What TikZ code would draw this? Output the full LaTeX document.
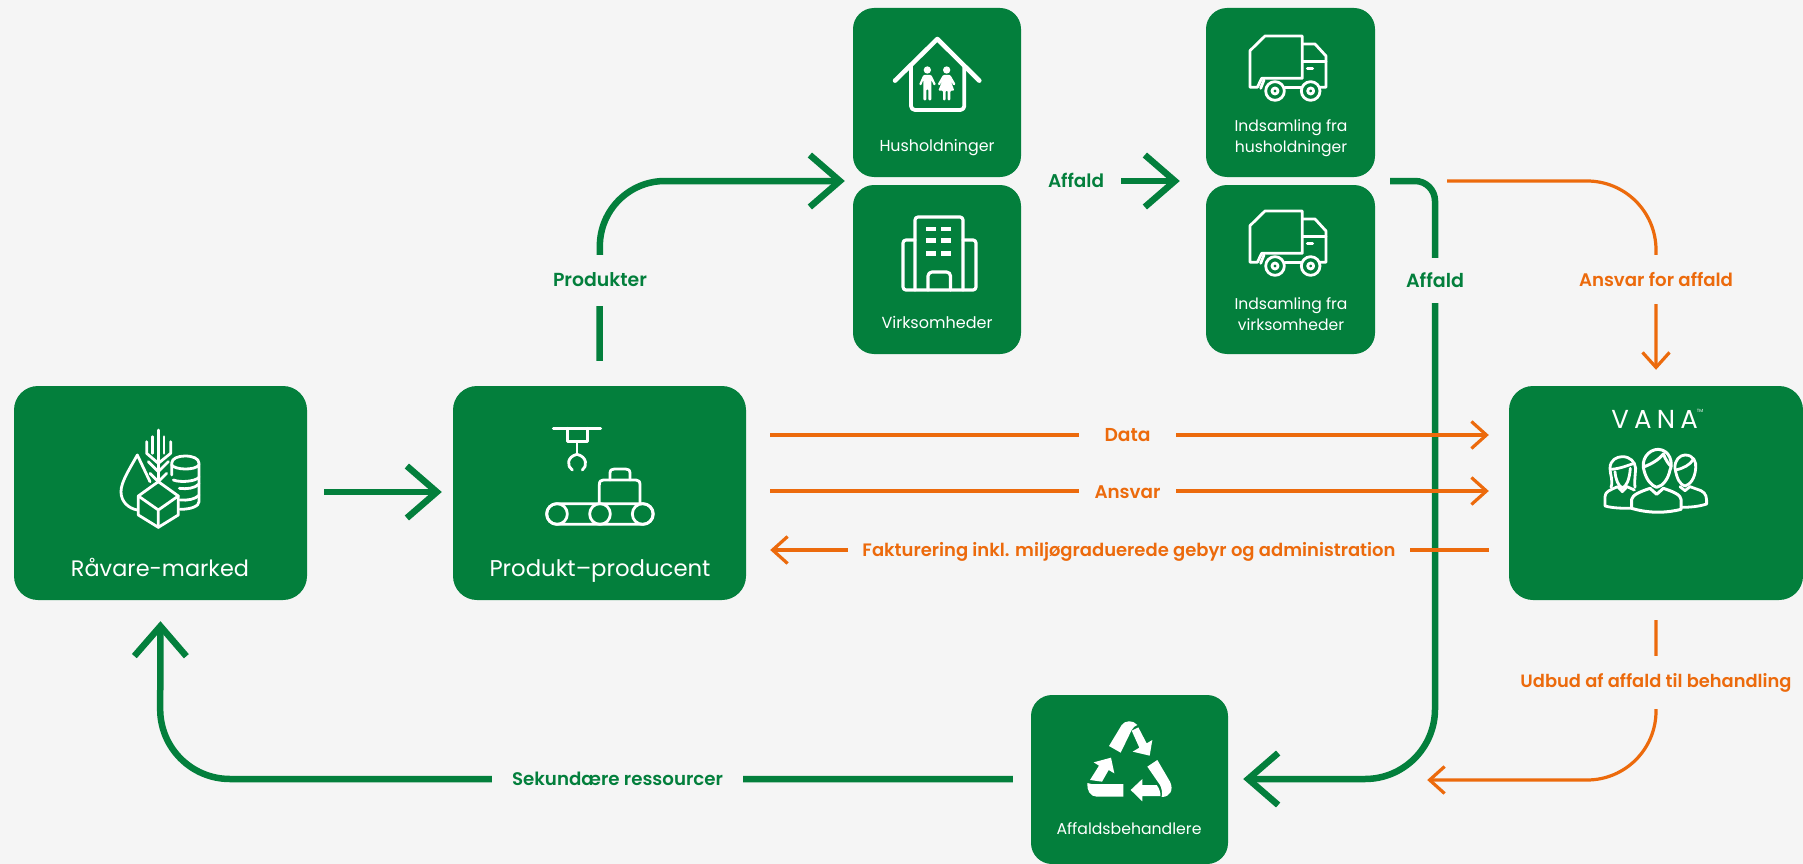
\documentclass[tikz,border=0pt]{standalone}
\usepackage{graphicx}
\usepackage{fontspec}
\usetikzlibrary{arrows.meta}
\setmainfont{Poppins}
\newfontfamily\lbfont{Poppins SemiBold}
\newfontfamily\vanafont[LetterSpace=20]{Poppins}
\definecolor{bgc}{HTML}{F5F5F5}
\definecolor{gc}{HTML}{037F3C}
\definecolor{oc}{HTML}{EC6A0C}
\newcommand\fitw[2]{\resizebox{#1pt}{!}{#2}}
\tikzset{
  gbox/.style={rectangle,fill=gc,rounded corners=24pt,inner sep=0pt},
  sbox/.style={gbox,rounded corners=21pt},
  boxtxt/.style={text=white,inner sep=0pt,align=center},
  glabel/.style={fill=bgc,text=gc,inner sep=0pt,font=\lbfont},
  olabel/.style={fill=bgc,text=oc,inner sep=0pt,font=\lbfont},
  gline/.style={draw=gc,line width=6.5pt,-{Straight Barb[length=30pt,width=52pt]}},
  oline/.style={draw=oc,line width=3.2pt,-{Straight Barb[length=15pt,width=27pt]}},
  ic/.style={draw=white,line width=2.8pt,line join=round,line cap=round},
  icf/.style={fill=white,draw=none},
}
\newcommand\TruckIcon{%
  \draw[ic] (52,172) -- (30,172) -- (30,62) -- (75,18) -- (187,18) -- (187,145) -- (65,145) -- (52,172);
  \draw[ic] (187,42) -- (225,42) -- (258,78) -- (258,172) -- (240,172);
  \draw[ic] (190,95) -- (258,95);
  \draw[ic] (135,172) -- (183,172);
  \draw[ic] (62,175) -- (72,150);
  \draw[ic,line width=3pt] (202,115) -- (218,115);
  \draw[ic] (105,183) circle (28);
  \draw[ic] (105,183) circle (9);
  \draw[ic] (212,183) circle (28);
  \draw[ic] (212,183) circle (9);
}
\begin{document}
\begin{tikzpicture}[x=1pt,y=-1pt]
\path[use as bounding box,fill=bgc] (0,0) rectangle (1803,864);

% boxes
\node[gbox,minimum width=293pt,minimum height=214pt] (rav) at (160.5,493) {};
\node[gbox,minimum width=293pt,minimum height=214pt] (prod) at (599.5,493) {};
\node[sbox,minimum width=168pt,minimum height=169pt] (hus) at (937,92.5) {};
\node[sbox,minimum width=168pt,minimum height=169pt] (virk) at (937,269.5) {};
\node[sbox,minimum width=169pt,minimum height=169pt] (indh) at (1290.5,92.5) {};
\node[sbox,minimum width=169pt,minimum height=169pt] (indv) at (1290.5,269.5) {};
\node[gbox,minimum width=294pt,minimum height=214pt] (vana) at (1656,493) {};
\node[sbox,minimum width=197pt,minimum height=169pt] (affb) at (1129.5,779.5) {};

% turning points
\coordinate (midL) at (0,181);
\coordinate (tp1) at (600,181);
\coordinate (tp2) at (1435,181);
\coordinate (tp3) at (1435,779);
\coordinate (tp4) at (160,779);
\coordinate (tp5) at (1656,181);
\coordinate (tp6) at (1656,780);

% green connectors
\draw[gline,shorten <=17pt,shorten >=11pt] (rav.east |- 0,492) -- (prod.west |- 0,492);
\draw[gline,shorten <=25pt,shorten >=8pt,rounded corners=65pt] (prod.north) -- (tp1) -- (hus.west |- midL);
\draw[gline,shorten <=100pt,shorten >=26pt] (hus.east |- midL) -- (indh.west |- midL);
\draw[gline,shorten <=15pt,shorten >=15pt] (indh.east |- midL) [rounded corners=20pt] -- (tp2) [rounded corners=70pt] -- (tp3) -- (affb.east |- tp3);
\draw[gline,shorten <=18pt,shorten >=21pt,rounded corners=70pt] (affb.west |- tp3) -- (tp4) -- (rav.south);

% orange connectors
\draw[oline,shorten <=72pt,shorten >=16pt,rounded corners=69pt] (indh.east |- midL) -- (tp5) -- (vana.north);
\draw[oline,shorten <=24pt,shorten >=20pt] (prod.east |- 0,435) -- (vana.west |- 0,435);
\draw[oline,shorten <=24pt,shorten >=20pt] (prod.east |- 0,491) -- (vana.west |- 0,491);
\draw[oline,shorten <=20pt,shorten >=24pt] (vana.west |- 0,550) -- (prod.east |- 0,550);
\draw[oline,shorten <=20pt,shorten >=199pt,rounded corners=69pt] (vana.south) -- (tp6) -- (affb.east |- tp6);

% connector labels
\node[glabel,minimum width=100pt,minimum height=51pt] (lprod) at (600,280) {\fitw{94}{Produkter}};
\node[glabel,minimum width=56pt] (laff1) at (1076,180) {\fitw{56}{Affald}};
\node[glabel,minimum width=62pt,minimum height=45pt] (laff2) at (1435,280) {\fitw{58}{Affald}};
\node[glabel,minimum width=251pt,minimum height=14pt] (lsek) at (617.5,779) {\fitw{211}{Sekundære ressourcer}};
\node[olabel,minimum width=165pt,minimum height=49pt] (lans) at (1656,279) {\fitw{154}{Ansvar for affald}};
\node[olabel,minimum width=97pt,minimum height=16pt] (ldata) at (1127.5,435) {\fitw{46}{Data}};
\node[olabel,minimum width=97pt,minimum height=16pt] (lansv) at (1127.5,492) {\fitw{66}{Ansvar}};
\node[olabel,minimum width=562pt,minimum height=16pt] (lfak) at (1129,552) {\fitw{533}{Fakturering inkl. miljøgraduerede gebyr og administration}};
\node[olabel,minimum width=272pt,minimum height=53pt] (ludb) at (1656,682.5) {\fitw{271}{Udbud af affald til behandling}};

% box labels
\node[boxtxt] (traw) at (160,567) {\fitw{178}{Råvare-marked}};
\node[boxtxt] (tprod) at (600,571) {\fitw{221}{Produkt–producent}};
\node[boxtxt] (thus) at (937,148) {\fitw{115}{Husholdninger}};
\node[boxtxt] (tvirk) at (937,322) {\fitw{111}{Virksomheder}};
\node[boxtxt,font=\fontsize{15.6}{21.5}\selectfont] (tindh) at (1291,138) {Indsamling fra\\husholdninger};
\node[boxtxt,font=\fontsize{15.6}{21.5}\selectfont] (tindv) at (1291,314) {Indsamling fra\\virksomheder};
\node[boxtxt] (taffb) at (1129,829) {\fitw{145}{Affaldsbehandlere}};
\node[boxtxt,font=\vanafont\fontsize{26}{26}\selectfont] (tvana) at (1654.5,419) {VANA};
\node[boxtxt,font=\fontsize{4.5}{5}\selectfont] (ttm) at (1700,411) {TM};

% raw materials icon
\begin{scope}[shift={(100pt,-420pt)},x=.3333pt,y=-.3333pt]
  \draw[ic] (112,270) .. controls (85,265) and (63,245) .. (63,215) .. controls (63,185) and (90,145) .. (112,105) -- (150,185);
  \draw[ic] (175,30) -- (175,185);
  \draw[ic] (158,50) -- (158,100) (192,50) -- (192,100);
  \draw[ic] (140,65) -- (140,100) -- (175,130) -- (212,100) -- (212,65);
  \draw[ic] (145,125) -- (175,155) -- (205,125);
  \draw[ic] (150,160) -- (175,185) -- (200,160);
  \draw[ic] (215,165) -- (215,130) .. controls (215,115) and (235,108) .. (255,108) .. controls (278,108) and (297,115) .. (297,130) -- (297,245) .. controls (297,258) and (275,268) .. (240,268);
  \draw[ic] (215,135) .. controls (225,150) and (285,152) .. (297,135);
  \draw[ic] (220,180) .. controls (240,188) and (285,185) .. (297,172);
  \draw[ic] (238,205) .. controls (260,208) and (285,205) .. (297,192);
  \draw[ic] (240,240) .. controls (262,242) and (285,238) .. (297,226);
  \draw[ic,fill=gc] (175,185) -- (115,228) -- (115,285) -- (175,322) -- (235,285) -- (235,228) -- cycle;
  \draw[ic] (115,228) -- (175,270) -- (235,228) (175,270) -- (175,322);
\end{scope}

% conveyor icon
\begin{scope}[shift={(535pt,-415pt)},x=.3333pt,y=-.3333pt]
  \draw[ic,line width=3pt] (55,40) -- (197,40);
  \draw[ic] (97,40) -- (97,80) -- (158,80) -- (158,40);
  \draw[ic] (126,80) -- (126,118);
  \draw[ic] (112,165) .. controls (95,155) and (95,125) .. (126,118) .. controls (157,125) and (157,155) .. (142,165);
  \draw[ic] (193,265) -- (193,210) .. controls (193,198) and (198,195) .. (205,195) -- (303,195) .. controls (312,195) and (315,200) .. (315,210) -- (315,265);
  \draw[ic] (225,195) -- (225,175) .. controls (225,165) and (230,162) .. (238,162) -- (272,162) .. controls (280,162) and (285,165) .. (285,175) -- (285,195);
  \draw[ic,rounded corners=10.3pt] (35,266) rectangle (355,328);
  \draw[ic] (66,297) circle (31);
  \draw[ic] (195,297) circle (31);
  \draw[ic] (323,297) circle (31);
\end{scope}

% house icon
\begin{scope}[shift={(885pt,-30pt)},x=.3333pt,y=-.3333pt]
  \draw[ic,line width=4.5pt] (30,152) -- (157,27) -- (283,152);
  \draw[ic,line width=3.8pt,rounded corners=4pt] (78,105) -- (78,240) -- (238,240) -- (238,105);
  \fill[icf] (127,120) circle (11);
  \fill[icf,rounded corners=1pt] (115,135) -- (139,135) -- (153,164) -- (147,167) -- (139,150) -- (139,211) -- (130,211) -- (130,178) -- (124,178) -- (124,211) -- (115,211) -- (115,150) -- (108,167) -- (102,164) -- cycle;
  \fill[icf] (185,120) circle (11);
  \fill[icf,rounded corners=1pt] (174,135) -- (196,135) -- (212,163) -- (206,167) -- (197,152) -- (208,182) -- (196,182) -- (196,211) -- (188,211) -- (188,182) -- (182,182) -- (182,211) -- (174,211) -- (174,182) -- (160,182) -- (172,152) -- (163,167) -- (158,163) -- cycle;
\end{scope}

% building icon
\draw[ic,line width=3.2pt,rounded corners=3pt] (915,290) -- (915,217) -- (963,217) -- (963,290);
\draw[ic,line width=3.2pt,rounded corners=3pt] (915,240) -- (903,240) -- (903,290) -- (976,290) -- (976,240) -- (963,240);
\foreach \wy/\wh in {226.5/4.5,238/5,251/4.7}{
  \fill[icf] (926.4,\wy) rectangle ++(9.6,\wh);
  \fill[icf] (941,\wy) rectangle ++(10,\wh);
}
\draw[ic,line width=3.2pt,rounded corners=4pt] (928,290) -- (928,272) -- (950.5,272) -- (950.5,290);

% trucks
\begin{scope}[shift={(1240pt,-30pt)},x=.3333pt,y=-.3333pt]\TruckIcon\end{scope}
\begin{scope}[shift={(1240pt,-205pt)},x=.3333pt,y=-.3333pt]\TruckIcon\end{scope}

% people icon
\begin{scope}[shift={(1595pt,-400pt)},x=.3333pt,y=-.3333pt]
  % left
  \draw[ic] (48,262) .. controls (55,240) and (45,225) .. (45,205) .. controls (45,180) and (65,170) .. (82,170) .. controls (105,170) and (120,185) .. (122,205) .. controls (120,230) and (118,250) .. (120,262);
  \draw[ic] (50,208) .. controls (80,205) and (100,195) .. (118,190);
  \draw[ic] (60,215) .. controls (62,240) and (70,258) .. (82,264) .. controls (95,258) and (103,240) .. (106,205);
  \draw[ic] (112,325) .. controls (85,325) and (55,325) .. (30,318) -- (30,290) .. controls (30,275) and (45,270) .. (68,260) -- (82,275) -- (96,260) -- (118,270);
  % right
  \draw[ic] (240,205) .. controls (238,180) and (255,165) .. (270,165) .. controls (295,165) and (305,185) .. (302,205) .. controls (300,235) and (285,255) .. (270,258) .. controls (255,255) and (245,235) .. (240,205);
  \draw[ic] (242,210) .. controls (265,205) and (285,195) .. (295,178);
  \draw[ic] (255,260) -- (270,272) -- (285,260) -- (318,272) .. controls (335,280) and (335,295) .. (335,312) .. controls (310,320) and (285,322) .. (258,322);
  % centre
  \draw[ic,line width=3pt] (148,215) .. controls (155,240) and (170,258) .. (185,262) .. controls (205,258) and (220,235) .. (225,210) .. controls (235,190) and (225,150) .. (190,148) .. controls (160,148) and (135,180) .. (148,215);
  \draw[ic,line width=3pt] (148,200) .. controls (175,190) and (195,175) .. (205,162) .. controls (212,180) and (222,195) .. (228,198);
  \draw[ic,line width=3pt,fill=gc] (110,325) -- (110,298) .. controls (112,285) and (135,275) .. (165,265) -- (185,283) -- (205,265) .. controls (235,275) and (258,285) .. (258,298) -- (258,328) .. controls (210,340) and (160,340) .. (110,325) -- cycle;
\end{scope}

% recycling icon
\begin{scope}[shift={(1080pt,-710pt)},x=.3333pt,y=-.3333pt]
  \fill[icf] (87,108) -- (125,45) .. controls (135,30) and (160,30) .. (172,45) .. controls (165,47) and (160,52) .. (155,60) -- (122,128) -- cycle;
  \fill[icf] (155,62) -- (175,52) -- (200,100) -- (217,90) -- (209,137) -- (158,125) -- (178,113) -- cycle;
  \fill[icf] (202,170) -- (232,150) -- (270,215) .. controls (282,240) and (270,261) .. (245,261) .. controls (248,250) and (245,235) .. (240,225) -- cycle;
  \fill[icf] (152,240) -- (187,207) -- (187,225) -- (230,225) .. controls (238,235) and (242,248) .. (241,258) -- (187,258) -- (187,274) -- cycle;
  \fill[icf] (22,219) .. controls (40,225) and (50,222) .. (60,222) -- (130,222) -- (130,260) -- (50,260) .. controls (30,260) and (20,240) .. (22,219) -- cycle;
  \fill[icf] (93,143) -- (103,190) -- (86,180) -- (66,215) -- (30,210) -- (57,167) -- (41,157) -- cycle;
\end{scope}
\end{tikzpicture}
\end{document}
